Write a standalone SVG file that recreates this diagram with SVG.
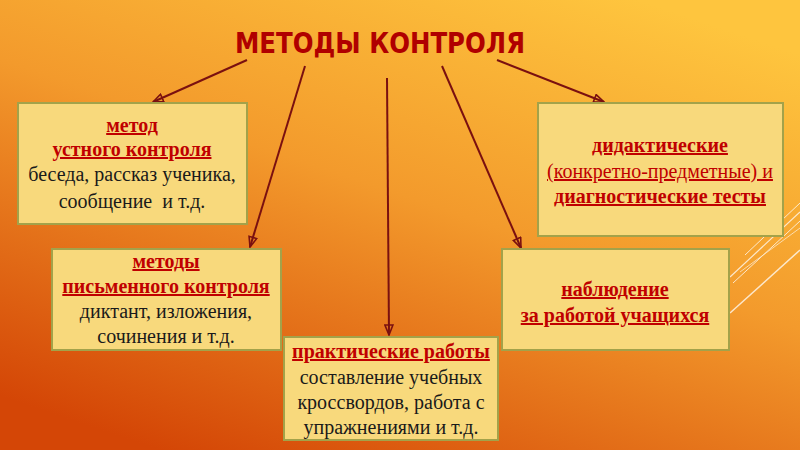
<svg xmlns="http://www.w3.org/2000/svg" width="800" height="450" viewBox="0 0 800 450">
<defs>
<linearGradient id="bg" x1="0.8" y1="0" x2="0.2" y2="1">
<stop offset="0" stop-color="#fec53e"/>
<stop offset="0.45" stop-color="#f39a2c"/>
<stop offset="1" stop-color="#d44606"/>
</linearGradient>
<marker id="ah" viewBox="0 0 12 10" refX="11" refY="5" markerWidth="12" markerHeight="10" markerUnits="userSpaceOnUse" orient="auto">
<path d="M1,1 L11,5 L1,9 Z" fill="none" stroke="#7a1010" stroke-width="1.6"/>
</marker>
<style>
.box{fill:#f8d97c;stroke:#a3a24a;stroke-width:2}
.t{font-family:"Liberation Serif","DejaVu Serif","Times New Roman",serif;font-size:20px;text-anchor:middle;fill:#1a1a1a}
.h{fill:#c00000;font-weight:bold;text-decoration:underline}
.u{fill:#c00000;text-decoration:underline}
.c{stroke:#7a1010;stroke-width:2;fill:none;marker-end:url(#ah)}
.w{stroke:#ffffff;fill:none}
</style>
</defs>
<rect width="800" height="450" fill="url(#bg)"/>
<g id="decor" opacity="0.75">
<line class="w" x1="730" y1="313" x2="800" y2="250" stroke-width="1.5"/>
<line class="w" x1="730" y1="277" x2="800" y2="212" stroke-width="1.2"/>
<line class="w" x1="733" y1="283" x2="800" y2="221" stroke-width="1"/>
<line class="w" x1="745" y1="255" x2="800" y2="203" stroke-width="1"/>
<line class="w" x1="740" y1="272" x2="800" y2="228" stroke-width="0.8"/>
</g>
<text x="380" y="53" font-family="'DejaVu Sans Condensed','DejaVu Sans',sans-serif" font-weight="bold" font-size="29" fill="#b00000" text-anchor="middle" textLength="290" lengthAdjust="spacingAndGlyphs">МЕТОДЫ КОНТРОЛЯ</text>
<g id="connectors">
<line class="c" x1="247" y1="60" x2="153" y2="102"/>
<line class="c" x1="305" y1="66" x2="250" y2="247"/>
<line class="c" x1="387" y1="78" x2="389" y2="335"/>
<line class="c" x1="442" y1="66" x2="521" y2="248"/>
<line class="c" x1="497" y1="60" x2="604" y2="102"/>
</g>
<g id="n1">
<rect class="box" x="18" y="103" width="229" height="121"/>
<text class="t h" x="132" y="132">метод</text>
<text class="t h" x="132" y="156">устного контроля</text>
<text class="t" x="132" y="181">беседа, рассказ ученика,</text>
<text class="t" x="132" y="208" xml:space="preserve">сообщение  и т.д.</text>
</g>
<g id="n2">
<rect class="box" x="52" y="249" width="229" height="101"/>
<text class="t h" x="166" y="268">методы</text>
<text class="t h" x="166" y="293">письменного контроля</text>
<text class="t" x="166" y="318">диктант, изложения,</text>
<text class="t" x="166" y="343">сочинения и т.д.</text>
</g>
<g id="n3">
<rect class="box" x="284" y="337" width="214" height="103"/>
<text class="t h" x="391" y="358">практические работы</text>
<text class="t" x="391" y="384">составление учебных</text>
<text class="t" x="391" y="409">кроссвордов, работа с</text>
<text class="t" x="391" y="434">упражнениями и т.д.</text>
</g>
<g id="n4">
<rect class="box" x="502" y="249" width="227" height="101"/>
<text class="t h" x="615" y="296">наблюдение</text>
<text class="t h" x="615" y="322">за работой учащихся</text>
</g>
<g id="n5">
<rect class="box" x="538" y="103" width="245" height="133"/>
<text class="t h" x="660" y="152">дидактические</text>
<text class="t u" x="660" y="178">(конкретно-предметные) и</text>
<text class="t h" x="660" y="203">диагностические тесты</text>
</g>
</svg>
